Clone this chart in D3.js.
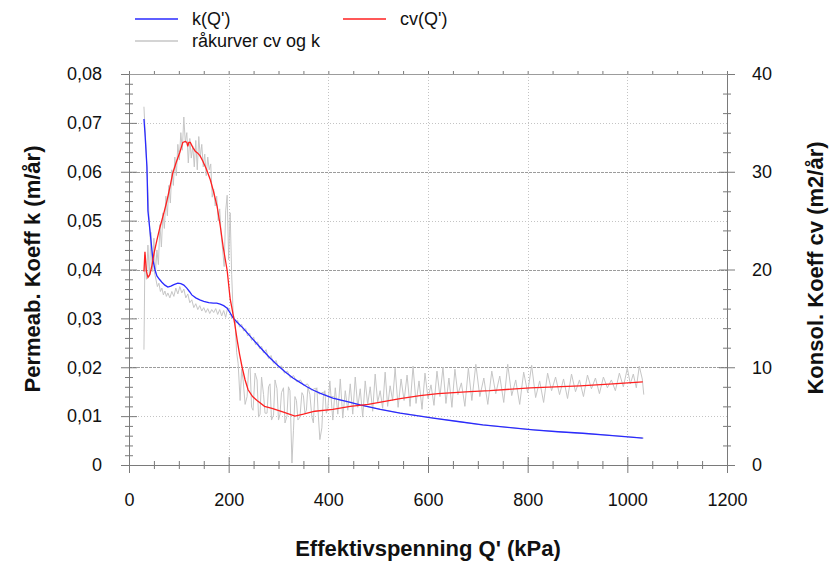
<!DOCTYPE html>
<html>
<head>
<meta charset="utf-8">
<script src="https://cdn.jsdelivr.net/npm/d3@7"></script>
<style>
  html, body { margin: 0; padding: 0; background: #fff; }
  svg { display: block; font-family: "Liberation Sans", Arial, sans-serif; }
</style>
</head>
<body>
<svg id="chart" width="832" height="565"></svg>
<script>
// Smoothed permeability k(Q') [m/år] against effective stress Q' [kPa]
const kQ   = [30, 32, 36, 38, 44, 48, 52, 56, 61, 66, 72, 78, 84, 90, 98, 104, 110, 116, 122, 126, 134, 142, 150, 160, 169, 176, 183, 190, 197, 203, 209, 219, 229, 246, 263, 280, 297, 313, 329, 343, 357, 370, 383, 396, 409, 436, 464, 504, 544, 577, 610, 660, 710, 760, 811, 861, 911, 970, 1031];
const kVal = [0.0708, 0.0680, 0.0610, 0.0520, 0.0460, 0.0420, 0.0400, 0.0387, 0.0380, 0.0374, 0.0368, 0.0364, 0.0366, 0.0369, 0.0372, 0.0371, 0.0368, 0.0362, 0.0354, 0.0348, 0.0342, 0.0338, 0.0335, 0.0332, 0.0331, 0.0331, 0.0329, 0.0326, 0.0321, 0.0311, 0.0301, 0.0290, 0.0280, 0.0260, 0.0241, 0.0222, 0.0205, 0.0191, 0.0178, 0.0169, 0.0160, 0.0153, 0.0147, 0.0142, 0.0137, 0.0130, 0.0123, 0.0114, 0.0106, 0.0101, 0.0096, 0.0089, 0.0082, 0.0077, 0.0072, 0.0068, 0.0065, 0.0060, 0.0055];

// Smoothed consolidation coefficient cv(Q') [m2/år]
const cvQ   = [30, 32, 35, 38, 42, 46, 50, 56, 62, 70, 76, 82, 88, 95, 102, 108, 113, 116, 118, 120, 123, 128, 133, 138, 143, 148, 155, 163, 170, 177, 183, 189, 193, 197, 203, 206, 212, 217, 222, 227, 233, 239, 248, 257, 272, 287, 310, 333, 350, 373, 409, 444, 480, 544, 584, 620, 684, 724, 805, 905, 971, 1031];
const cvVal = [19.8, 21.8, 19.8, 19.2, 19.5, 20.4, 21.6, 23.0, 24.3, 25.8, 27.0, 28.4, 29.9, 31.0, 32.0, 33.0, 33.1, 33.0, 32.6, 33.0, 33.0, 32.5, 32.1, 31.9, 31.6, 31.1, 30.3, 29.2, 27.9, 26.4, 24.5, 22.3, 21.1, 19.9, 17.0, 16.2, 14.5, 12.8, 11.3, 10.0, 8.7, 7.7, 7.0, 6.6, 6.0, 5.8, 5.4, 5.0, 5.2, 5.5, 5.7, 6.0, 6.2, 6.8, 7.1, 7.3, 7.5, 7.6, 7.9, 8.1, 8.3, 8.5];

// Raw measured curves (grey), cv in m2/år and k in m/år
const rawCv = [
  [30, 11.8], [32, 21.5], [35, 19.0], [38, 22.5], [41, 19.3], [44, 23.8], [47, 19.8], [50, 23.2], [53, 19.6], [56, 22.0],
  [59, 20.5], [62, 24.6], [65, 22.3], [68, 25.8], [71, 24.2], [74, 27.5], [77, 25.5], [80, 28.6], [83, 26.8], [86, 30.2],
  [89, 28.6], [92, 31.5], [95, 29.6], [98, 32.8], [101, 31.2], [104, 34.0], [107, 32.2], [110, 35.6], [113, 33.0], [116, 34.0],
  [119, 30.9], [122, 33.4], [125, 31.4], [128, 32.6], [131, 30.5], [134, 33.2], [137, 30.2], [140, 33.6], [143, 31.5], [146, 32.8],
  [149, 30.5], [152, 31.8], [155, 29.6], [158, 31.5], [161, 30.2], [164, 30.8], [167, 27.4], [170, 28.2], [173, 26.5], [176, 27.5],
  [179, 25.0], [182, 26.2], [185, 23.5], [188, 22.0], [191, 20.3], [194, 26.0], [197, 27.6], [200, 21.0], [203, 25.8], [206, 19.5],
  [209, 15.5], [213, 14.5], [216, 11.5], [219, 10.4], [223, 6.6], [226, 9.8], [229, 8.7], [233, 6.2], [237, 7.0], [240, 9.8],
  [243, 10.0], [246, 5.9], [249, 5.6], [253, 9.4], [257, 8.7], [260, 4.9], [263, 5.2], [266, 9.0], [270, 7.2], [273, 5.3],
  [277, 5.3], [280, 8.0], [283, 8.3], [286, 4.6], [290, 5.1], [293, 8.7], [297, 7.8], [300, 4.6], [303, 5.2], [306, 7.4],
  [310, 7.9], [313, 4.3], [317, 5.0], [320, 8.0], [323, 7.6], [327, 0.2], [330, 3.5], [333, 7.0], [336, 6.6], [339, 4.6],
  [343, 4.9], [347, 7.4], [350, 7.1], [353, 5.3], [356, 5.6], [359, 8.0], [363, 7.2], [367, 4.9], [370, 4.3], [373, 7.4],
  [377, 7.9], [380, 5.0], [383, 2.6], [387, 3.8], [390, 7.0], [393, 7.6], [396, 5.3], [399, 5.8],
  [403, 8.6], [409, 4.6], [414, 7.9], [419, 5.2], [424, 8.8], [429, 4.8], [434, 7.6], [439, 5.6], [444, 8.3], [449, 5.2],
  [454, 9.0], [459, 5.9], [464, 7.8], [469, 4.9], [474, 8.6], [479, 6.2], [484, 8.0], [489, 5.5], [494, 9.3], [499, 6.4],
  [504, 7.6], [509, 5.8], [514, 9.5], [519, 6.0], [524, 8.1], [529, 6.6], [534, 9.9], [540, 5.9], [546, 8.8], [552, 6.6],
  [558, 9.2], [564, 6.0], [570, 10.1], [576, 6.3], [582, 8.6], [588, 5.7], [594, 9.4], [600, 6.8], [606, 8.2], [612, 6.1],
  [618, 9.6], [624, 7.0], [630, 10.0], [636, 6.3], [642, 8.9], [648, 5.9], [654, 9.8], [660, 7.2], [667, 8.4], [674, 6.0],
  [681, 9.9], [688, 6.6], [696, 10.3], [704, 7.0], [712, 8.9], [720, 6.2], [728, 9.6], [736, 7.3], [744, 9.1], [752, 6.4],
  [760, 10.3], [768, 7.1], [776, 8.7], [784, 6.2], [792, 9.5], [800, 7.4], [808, 10.2], [816, 6.9], [824, 8.6], [832, 6.4],
  [840, 9.4], [848, 7.6], [856, 9.0], [864, 7.2], [872, 8.8], [880, 6.8], [888, 9.3], [896, 7.5], [904, 8.7], [912, 7.0],
  [920, 9.2], [928, 7.8], [936, 8.9], [944, 7.3], [952, 9.0], [960, 7.9], [968, 8.7], [976, 7.6], [984, 9.4], [992, 8.0],
  [1000, 9.9], [1006, 8.3], [1012, 9.3], [1018, 7.9], [1024, 10.1], [1030, 8.8], [1033, 7.2]
];
const rawK = [
  [30, 0.0733], [32, 0.0690], [34, 0.0655], [36, 0.0600], [38, 0.0560], [40, 0.0510], [42, 0.0475], [44, 0.0440], [46, 0.0425], [48, 0.0400],
  [51, 0.0395], [54, 0.0380], [57, 0.0365], [60, 0.0372], [63, 0.0355], [66, 0.0362], [69, 0.0348], [72, 0.0356], [75, 0.0345], [78, 0.0352],
  [82, 0.0342], [86, 0.0355], [90, 0.0345], [94, 0.0362], [98, 0.0350], [102, 0.0365], [106, 0.0352], [110, 0.0360], [114, 0.0342], [118, 0.0350],
  [122, 0.0332], [126, 0.0338], [130, 0.0322], [134, 0.0330], [138, 0.0318], [142, 0.0326], [146, 0.0315], [150, 0.0322], [154, 0.0312], [158, 0.0320],
  [162, 0.0310], [166, 0.0318], [170, 0.0312], [174, 0.0320], [178, 0.0308], [182, 0.0318], [186, 0.0305], [190, 0.0316], [194, 0.0302], [198, 0.0322],
  [202, 0.0318], [206, 0.0300], [210, 0.0305], [214, 0.0290], [218, 0.0296], [222, 0.0282], [226, 0.0288], [230, 0.0274], [234, 0.0279], [238, 0.0264],
  [242, 0.0270], [246, 0.0255], [250, 0.0262], [254, 0.0246], [258, 0.0252], [262, 0.0238], [266, 0.0243], [270, 0.0229], [275, 0.0236], [280, 0.0218],
  [285, 0.0224], [290, 0.0208], [295, 0.0214], [300, 0.0199], [306, 0.0203], [312, 0.0188], [318, 0.0192], [324, 0.0178], [330, 0.0183], [337, 0.0170],
  [344, 0.0174], [351, 0.0162], [358, 0.0166], [366, 0.0153], [374, 0.0157], [382, 0.0145], [390, 0.0149], [400, 0.0139], [410, 0.0140], [420, 0.0133],
  [440, 0.0130], [460, 0.0123], [500, 0.0115], [540, 0.0107], [580, 0.0101], [620, 0.0095], [660, 0.0089], [700, 0.0083], [750, 0.0078], [800, 0.0073],
  [850, 0.0069], [900, 0.0065], [950, 0.0062], [1000, 0.0058], [1033, 0.0055]
];

// Axis ticks and labels
const xTicks   = [0, 200, 400, 600, 800, 1000, 1200];
const kTicks   = [0, 0.01, 0.02, 0.03, 0.04, 0.05, 0.06, 0.07, 0.08];
const kLabels  = ["0", "0,01", "0,02", "0,03", "0,04", "0,05", "0,06", "0,07", "0,08"];
const cvTicks  = [0, 10, 20, 30, 40];

const svg = d3.select("#chart");
const W = 832, H = 565;
const m = { left: 129, right: 727, top: 74, bottom: 465 };

svg.append("rect").attr("width", W).attr("height", H).attr("fill", "#fff");

const x   = d3.scaleLinear().domain([0, 1200]).range([m.left, m.right]);
const yK  = d3.scaleLinear().domain([0, 0.08]).range([m.bottom, m.top]);
const yCv = d3.scaleLinear().domain([0, 40]).range([m.bottom, m.top]);

// Grid: dotted minor lines and stronger lines at the shared major levels
const grid = svg.append("g");
[0.01, 0.03, 0.05, 0.07].forEach(v => {
  grid.append("line").attr("x1", m.left).attr("x2", m.right)
    .attr("y1", Math.round(yK(v)) + 0.5).attr("y2", Math.round(yK(v)) + 0.5)
    .attr("stroke", "#c4c4c4").attr("stroke-dasharray", "1,2");
});
[0.02, 0.04, 0.06].forEach(v => {
  grid.append("line").attr("x1", m.left).attr("x2", m.right)
    .attr("y1", Math.round(yK(v)) + 0.5).attr("y2", Math.round(yK(v)) + 0.5)
    .attr("stroke", "#9c9c9c").attr("stroke-dasharray", "3,1");
});
xTicks.slice(1, -1).forEach(v => {
  grid.append("line").attr("y1", m.top).attr("y2", m.bottom)
    .attr("x1", Math.round(x(v)) + 0.5).attr("x2", Math.round(x(v)) + 0.5)
    .attr("stroke", "#c4c4c4").attr("stroke-dasharray", "1,2");
});

// Curves
const lineK  = d3.line().x(d => x(d[0])).y(d => yK(d[1]));
const lineCv = d3.line().x(d => x(d[0])).y(d => yCv(d[1]));

svg.append("path").datum(rawCv).attr("d", lineCv)
  .attr("fill", "none").attr("stroke", "#c6c6c6").attr("stroke-width", 1);
svg.append("path").datum(rawK).attr("d", lineK)
  .attr("fill", "none").attr("stroke", "#c6c6c6").attr("stroke-width", 1);
svg.append("path").datum(kQ.map((q, i) => [q, kVal[i]])).attr("d", lineK)
  .attr("fill", "none").attr("stroke", "#2a2aff").attr("stroke-width", 1.3);
svg.append("path").datum(cvQ.map((q, i) => [q, cvVal[i]])).attr("d", lineCv)
  .attr("fill", "none").attr("stroke", "#ff2020").attr("stroke-width", 1.3);

// Axes with ticks crossing the axis line
const axisColor = "#7a7a7a";
function crossTicks(g, isMajor, major, minor, vertical) {
  g.selectAll(".tick line").each(function(d) {
    const s = isMajor(d) ? major : minor;
    const l = d3.select(this).attr("stroke", axisColor);
    if (vertical) l.attr("x1", -s).attr("x2", s);
    else l.attr("y1", -s).attr("y2", s);
  });
  g.select(".domain").attr("stroke", axisColor);
}

const near = (a, b) => Math.abs(a - b) < 1e-7;

const kMinor = d3.range(0, 41).map(i => i * 0.002);
const gL = svg.append("g").attr("transform", `translate(${m.left},0)`)
  .call(d3.axisLeft(yK).tickValues(kMinor).tickSizeOuter(0)
    .tickFormat(d => { const i = kTicks.findIndex(t => near(t, d)); return i >= 0 ? kLabels[i] : ""; }));
crossTicks(gL, d => kTicks.some(t => near(t, d)), 8, 4, true);
gL.selectAll(".tick text").attr("x", -27);

const cvMinor = d3.range(0, 41, 2);
const gR = svg.append("g").attr("transform", `translate(${m.right},0)`)
  .call(d3.axisRight(yCv).tickValues(cvMinor).tickSizeOuter(0)
    .tickFormat(d => cvTicks.includes(d) ? String(d) : ""));
crossTicks(gR, d => cvTicks.includes(d), 8, 4, true);
gR.selectAll(".tick text").attr("x", 25);

const xMinor = d3.range(0, 1201, 50);
const gB = svg.append("g").attr("transform", `translate(0,${m.bottom})`)
  .call(d3.axisBottom(x).tickValues(xMinor).tickSizeOuter(0)
    .tickFormat(d => xTicks.includes(d) ? String(d) : ""));
crossTicks(gB, d => xTicks.includes(d), 8, 4, false);
gB.selectAll(".tick text").attr("y", 28);

const gT = svg.append("g").attr("transform", `translate(0,${m.top})`)
  .call(d3.axisTop(x).tickValues(xMinor).tickSizeOuter(0).tickSizeInner(3).tickFormat(""));
gT.selectAll(".tick line").attr("stroke", axisColor);
gT.select(".domain").attr("stroke", "#9c9c9c");

svg.selectAll(".tick text")
  .attr("font-family", "'Liberation Sans', Arial, sans-serif")
  .attr("font-size", 18).attr("fill", "#111");

// Axis titles
const titleFont = { family: "'Liberation Sans', Arial, sans-serif", size: 22 };
svg.append("text").text("Effektivspenning Q' (kPa)")
  .attr("x", (m.left + m.right) / 2).attr("y", 556)
  .attr("text-anchor", "middle").attr("font-weight", "bold")
  .attr("font-family", titleFont.family).attr("font-size", titleFont.size).attr("fill", "#111");
svg.append("text").text("Permeab. Koeff k (m/år)")
  .attr("transform", "translate(40,269) rotate(-90)")
  .attr("text-anchor", "middle").attr("font-weight", "bold")
  .attr("font-family", titleFont.family).attr("font-size", titleFont.size).attr("fill", "#111");
svg.append("text").text("Konsol. Koeff cv (m2/år)")
  .attr("transform", "translate(823,268) rotate(-90)")
  .attr("text-anchor", "middle").attr("font-weight", "bold")
  .attr("font-family", titleFont.family).attr("font-size", titleFont.size).attr("fill", "#111");

// Legend
const legend = [
  { label: "k(Q')", color: "#2a2aff", x: 135, y: 19 },
  { label: "cv(Q')", color: "#ff2020", x: 343, y: 19 },
  { label: "råkurver cv og k", color: "#c6c6c6", x: 135, y: 41 }
];
const lg = svg.append("g");
legend.forEach(e => {
  lg.append("line").attr("x1", e.x).attr("x2", e.x + 43).attr("y1", e.y).attr("y2", e.y)
    .attr("stroke", e.color).attr("stroke-width", 1.3);
  lg.append("text").text(e.label).attr("x", e.x + 57).attr("y", e.y).attr("dy", "0.35em")
    .attr("font-family", "'Liberation Sans', Arial, sans-serif").attr("font-size", 18).attr("fill", "#111");
});
</script>
</body>
</html>
